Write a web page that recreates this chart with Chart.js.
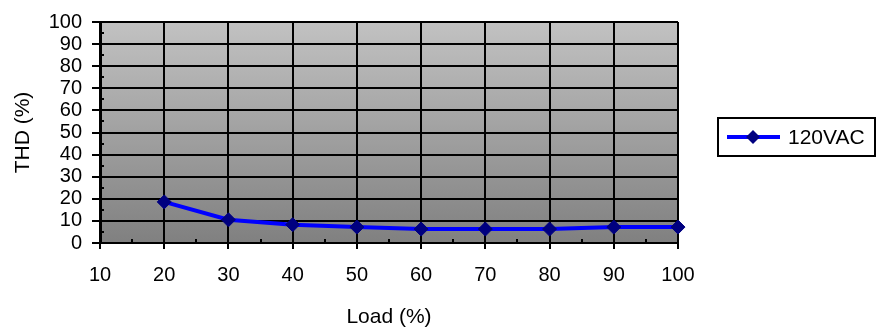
<!DOCTYPE html>
<html>
<head>
<meta charset="utf-8">
<script src="https://cdn.jsdelivr.net/npm/chart.js@4.4.1/dist/chart.umd.min.js"></script>
<style>
  html, body { margin: 0; padding: 0; background: #fff; }
  #wrap { width: 876px; height: 331px; }
</style>
</head>
<body>
<div id="wrap"><canvas id="thdChart" width="876" height="331"></canvas></div>
<script>
var loadValues = [20, 30, 40, 50, 60, 70, 80, 90, 100];
var thdValues = [18.6, 10.5, 8.3, 7.2, 6.3, 6.3, 6.3, 7.2, 7.2];
var seriesName = '120VAC';
var xTicks = [10, 20, 30, 40, 50, 60, 70, 80, 90, 100];
var yTicks = [0, 10, 20, 30, 40, 50, 60, 70, 80, 90, 100];

var FONT = 'Arial, "Liberation Sans", sans-serif';

var points = loadValues.map(function (v, i) { return { x: v, y: thdValues[i] }; });

// grey gradient behind the plot
var plotBg = {
    id: 'plotBg',
    beforeDraw: function (chart) {
        var a = chart.chartArea, c = chart.ctx;
        var g = c.createLinearGradient(0, a.top, 0, a.bottom);
        g.addColorStop(0, '#c2c2c2');
        g.addColorStop(1, '#808080');
        c.save();
        c.fillStyle = g;
        c.fillRect(a.left, a.top, a.right - a.left, a.bottom - a.top);
        c.restore();
    }
};

// small inside ticks halfway between the major ones
var minorTicks = {
    id: 'minorTicks',
    afterDatasetsDraw: function (chart) {
        var c = chart.ctx, a = chart.chartArea;
        var xs = chart.scales.x, ys = chart.scales.y;
        c.save();
        c.strokeStyle = '#000';
        c.lineWidth = 2;
        for (var i = 0; i < xTicks.length - 1; i++) {
            var px = Math.round(xs.getPixelForValue((xTicks[i] + xTicks[i + 1]) / 2));
            c.beginPath(); c.moveTo(px, a.bottom); c.lineTo(px, a.bottom - 4); c.stroke();
        }
        for (var j = 0; j < yTicks.length - 1; j++) {
            var py = Math.round(ys.getPixelForValue((yTicks[j] + yTicks[j + 1]) / 2));
            c.beginPath(); c.moveTo(a.left, py); c.lineTo(a.left + 4, py); c.stroke();
        }
        c.restore();
    }
};

// boxed legend on the right, line + diamond + label
var boxLegend = {
    id: 'boxLegend',
    afterDraw: function (chart) {
        var c = chart.ctx, a = chart.chartArea;
        var ds = chart.data.datasets[0];
        var bx = a.right + 40, bw = 157, bh = 38;
        var by = Math.round((a.top + a.bottom) / 2 - bh / 2 + 4);
        c.save();
        c.strokeStyle = '#000';
        c.lineWidth = 2;
        c.strokeRect(bx, by, bw, bh);
        var cy = by + bh / 2;
        c.strokeStyle = ds.borderColor;
        c.lineWidth = 4;
        c.beginPath(); c.moveTo(bx + 9, cy); c.lineTo(bx + 62, cy); c.stroke();
        var mx = bx + 35, r = 7;
        c.fillStyle = ds.pointBackgroundColor;
        c.beginPath();
        c.moveTo(mx, cy - r); c.lineTo(mx + r, cy); c.lineTo(mx, cy + r); c.lineTo(mx - r, cy);
        c.closePath(); c.fill();
        c.fillStyle = '#000';
        c.font = '21px ' + FONT;
        c.textBaseline = 'middle';
        c.textAlign = 'left';
        c.fillText(ds.label, bx + 70, cy + 1);
        c.restore();
    }
};

var ctx = document.getElementById('thdChart').getContext('2d');
var thdChart = new Chart(ctx, {
    type: 'line',
    data: {
        datasets: [{
            label: seriesName,
            data: points,
            borderColor: '#0000ff',
            borderWidth: 4,
            pointStyle: 'rectRot',
            pointRadius: 7,
            pointHoverRadius: 7,
            pointBackgroundColor: '#000080',
            pointBorderColor: '#000080',
            pointBorderWidth: 1,
            fill: false,
            tension: 0
        }]
    },
    options: {
        responsive: false,
        animation: false,
        clip: false,
        layout: { padding: { top: 17, right: 198, left: 0, bottom: 0 } },
        plugins: {
            legend: { display: false },
            tooltip: { enabled: false }
        },
        scales: {
            x: {
                type: 'linear',
                min: 10,
                max: 100,
                afterFit: function (s) { s.height = 88; },
                afterBuildTicks: function (s) { s.ticks = xTicks.map(function (v) { return { value: v }; }); },
                ticks: { color: '#000', font: { family: FONT, size: 20 }, padding: 14, maxRotation: 0, autoSkip: false },
                grid: { color: '#000', lineWidth: 2, tickLength: 6, tickColor: '#000' },
                border: { color: '#000', width: 2 },
                title: {
                    display: true, text: 'Load (%)', color: '#000',
                    font: { family: FONT, size: 21 }, padding: { top: 0, bottom: 1 }
                }
            },
            y: {
                min: 0,
                max: 100,
                afterFit: function (s) { s.width = 100; },
                afterBuildTicks: function (s) { s.ticks = yTicks.map(function (v) { return { value: v }; }); },
                ticks: { color: '#000', font: { family: FONT, size: 20 }, padding: 10, autoSkip: false },
                grid: { color: '#000', lineWidth: 2, tickLength: 8, tickColor: '#000' },
                border: { color: '#000', width: 3 },
                title: {
                    display: true, text: 'THD (%)', color: '#000',
                    font: { family: FONT, size: 21 }, padding: { top: 11, bottom: 0 }
                }
            }
        }
    },
    plugins: [plotBg, minorTicks, boxLegend]
});
</script>
</body>
</html>
